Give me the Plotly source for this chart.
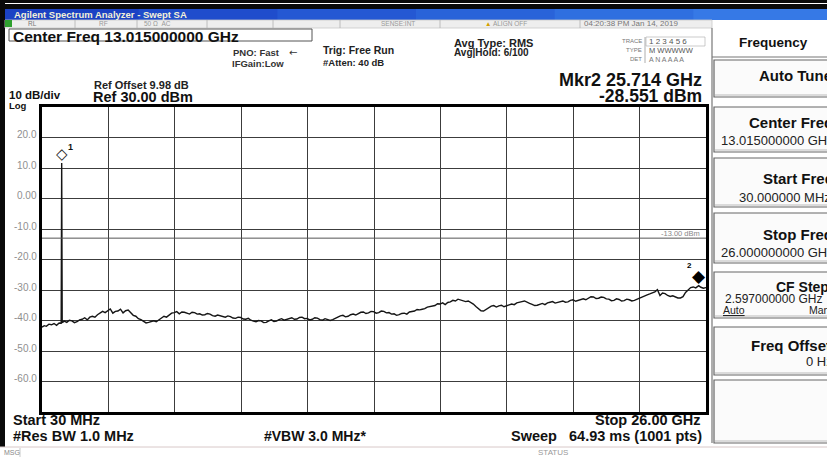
import plotly.graph_objects as go

# ---- sweep data (GHz, dBm) ----
freq_ghz = [
    0.03, 0.12, 0.2, 0.3, 0.4, 0.5, 0.6, 0.7, 0.78, 0.80, 0.82, 0.9,
    1.0, 1.1, 1.2, 1.3, 1.4, 1.5, 1.6, 1.7, 1.8, 1.9,
    2.0, 2.1, 2.2, 2.3, 2.4, 2.5, 2.6, 2.7, 2.8, 2.9,
    3.0, 3.1, 3.2, 3.3, 3.4, 3.5, 3.6, 3.7, 3.8, 3.9,
    4.0, 4.1, 4.2, 4.3, 4.4, 4.5, 4.6, 4.7, 4.8, 4.9,
    5.0, 5.1, 5.2, 5.3, 5.4, 5.5, 5.6, 5.7, 5.8, 5.9,
    6.0, 6.1, 6.2, 6.3, 6.4, 6.5, 6.6, 6.7, 6.8, 6.9,
    7.0, 7.1, 7.2, 7.3, 7.4, 7.5, 7.6, 7.7, 7.8, 7.9,
    8.0, 8.1, 8.2, 8.3, 8.4, 8.5, 8.6, 8.7, 8.8, 8.9,
    9.0, 9.1, 9.2, 9.3, 9.4, 9.5, 9.6, 9.7, 9.8, 9.9,
    10.0, 10.1, 10.2, 10.3, 10.4, 10.5, 10.6, 10.7, 10.8, 10.9,
    11.0, 11.1, 11.2, 11.3, 11.4, 11.5, 11.6, 11.7, 11.8, 11.9,
    12.0, 12.1, 12.2, 12.3, 12.4, 12.5, 12.6, 12.7, 12.8, 12.9,
    13.0, 13.1, 13.2, 13.3, 13.4, 13.5, 13.6, 13.7, 13.8, 13.9,
    14.0, 14.1, 14.2, 14.3, 14.4, 14.5, 14.6, 14.7, 14.8, 14.9,
    15.0, 15.1, 15.2, 15.3, 15.4, 15.5, 15.6, 15.7, 15.8, 15.9,
    16.0, 16.1, 16.2, 16.3, 16.4, 16.5, 16.6, 16.7, 16.8, 16.9,
    17.0, 17.1, 17.2, 17.3, 17.4, 17.5, 17.6, 17.7, 17.8, 17.9,
    18.0, 18.1, 18.2, 18.3, 18.4, 18.5, 18.6, 18.7, 18.8, 18.9,
    19.0, 19.1, 19.2, 19.3, 19.4, 19.5, 19.6, 19.7, 19.8, 19.9,
    20.0, 20.1, 20.2, 20.3, 20.4, 20.5, 20.6, 20.7, 20.8, 20.9,
    21.0, 21.1, 21.2, 21.3, 21.4, 21.5, 21.6, 21.7, 21.8, 21.9,
    22.0, 22.1, 22.2, 22.3, 22.4, 22.5, 22.6, 22.7, 22.8, 22.9,
    23.0, 23.1, 23.2, 23.3, 23.4, 23.5, 23.6, 23.7, 23.8, 23.9,
    24.0, 24.1, 24.2, 24.3, 24.4, 24.5, 24.6, 24.7, 24.8, 24.9,
    25.0, 25.1, 25.2, 25.3, 25.4, 25.5, 25.6, 25.714, 25.8, 25.9, 26.0,
]
level_dbm = [
    -42.2, -41.7, -41.9, -41.2, -41.4, -41.0, -41.6, -40.8, -40.9, 11.6, -40.7, -40.2,
    -40.6, -39.9, -40.1, -40.7, -40.4, -39.8, -39.6, -39.1, -39.8, -38.9,
    -38.6, -38.9, -38.1, -37.5, -37.0, -37.4, -36.7, -36.2, -37.6, -37.0,
    -36.9, -36.3, -37.5, -36.8, -36.6, -37.4, -38.3, -38.6, -39.4, -39.7,
    -40.2, -40.8, -40.6, -40.3, -40.1, -40.4, -39.8, -39.1, -38.6, -38.9,
    -38.2, -37.6, -37.4, -37.1, -37.8, -37.2, -37.3, -37.6, -37.9, -37.3,
    -37.4, -37.9, -37.8, -38.2, -38.1, -37.7, -37.9, -38.4, -38.6, -38.2,
    -38.4, -38.8, -38.9, -38.5, -38.7, -39.2, -39.3, -38.9, -39.0, -39.5,
    -39.6, -39.3, -39.9, -40.2, -40.4, -40.0, -40.1, -40.7, -40.6, -40.1,
    -39.8, -40.3, -40.2, -39.7, -39.4, -39.9, -39.7, -39.3, -39.1, -39.6,
    -39.5, -39.0, -38.9, -39.4, -39.3, -39.8, -39.6, -39.1, -39.2, -39.7,
    -39.9, -39.4, -39.6, -40.0, -39.7, -39.2, -38.9, -38.5, -38.3, -38.8,
    -38.6, -38.1, -37.9, -38.2, -37.6, -37.3, -37.2, -37.7, -37.5, -37.0,
    -37.1, -37.6, -37.4, -36.9, -37.0, -37.5, -37.4, -37.9, -37.8, -38.3,
    -38.1, -37.7, -37.6, -37.9, -37.2, -37.0, -36.9, -36.4, -36.5, -36.3,
    -36.1, -35.6, -35.5, -35.4, -35.1, -34.5, -34.6, -34.2, -34.8, -34.1,
    -33.9, -33.4, -33.6, -33.0, -33.2, -33.5, -33.8, -33.6, -34.1, -34.6,
    -35.4, -36.2, -36.8, -36.9, -36.3, -35.8, -35.3, -35.1, -35.6, -35.2,
    -35.0, -35.5, -35.3, -34.9, -34.6, -34.8, -34.2, -33.9, -33.8, -33.6,
    -34.1, -34.4, -34.7, -35.1, -35.0, -34.6, -34.4, -34.8, -34.2, -34.0,
    -33.8, -34.3, -34.1, -33.7, -33.6, -34.0, -33.9, -33.4, -33.2, -33.7,
    -33.5, -33.1, -32.9, -33.2, -32.6, -32.2, -32.3, -32.8, -32.7, -32.3,
    -32.4, -32.9, -33.0, -33.5, -33.4, -32.9, -33.1, -33.6, -33.5, -33.0,
    -33.2, -33.6, -33.4, -33.0, -32.8, -32.2, -31.9, -31.6, -31.3, -30.9,
    -30.6, -29.9, -31.8, -31.0, -31.2, -31.8, -32.1, -31.9, -32.3, -32.6,
    -32.6, -32.2, -30.8, -29.9, -29.2, -29.0, -29.3, -28.551, -29.1, -29.4, -29.2,
]

y_tick_vals = [20, 10, 0, -10, -20, -30, -40, -50, -60]
y_tick_text = ["20.0", "10.0", "0.00", "-10.0", "-20.0", "-30.0", "-40.0", "-50.0", "-60.0"]

start_ghz, stop_ghz = 0.03, 26.0
ref_level = 30.0
db_per_div = 10.0
display_line_dbm = -13.0
mkr1_ghz, mkr1_dbm = 0.80, 11.6
mkr2_ghz, mkr2_dbm = 25.714, -28.551

# ---- page geometry (pixels) ----
W, H = 827, 457
L, R, T, B = 42, 706, 107, 412
FONT = "Liberation Sans, Arial, sans-serif"


def px(x):
    return (x - L) / (R - L)


def py(y):
    return (B - y) / (B - T)


fig = go.Figure()

fig.add_trace(go.Scatter(
    x=freq_ghz, y=level_dbm, mode="lines",
    line=dict(color="#151515", width=1.4), hoverinfo="skip", showlegend=False,
))

shapes = []
annotations = []


def rect(x0, y0, x1, y1, fill=None, line=None, lw=1, layer="above"):
    shapes.append(dict(
        type="rect", xref="paper", yref="paper",
        x0=px(x0), x1=px(x1), y0=py(y1), y1=py(y0),
        fillcolor=fill if fill else "rgba(0,0,0,0)",
        line=dict(color=line if line else "rgba(0,0,0,0)", width=lw if line else 0),
        layer=layer,
    ))


def hline(x0, x1, y, color="#888", lw=1):
    shapes.append(dict(type="line", xref="paper", yref="paper",
                       x0=px(x0), x1=px(x1), y0=py(y), y1=py(y),
                       line=dict(color=color, width=lw)))


def vline(x, y0, y1, color="#888", lw=1):
    shapes.append(dict(type="line", xref="paper", yref="paper",
                       x0=px(x), x1=px(x), y0=py(y0), y1=py(y1),
                       line=dict(color=color, width=lw)))


def txt(x, y, s, size=10, anchor="left", color="#111", bold=False, family=FONT):
    annotations.append(dict(
        xref="paper", yref="paper", x=px(x), y=py(y),
        text=f"<b>{s}</b>" if bold else s, showarrow=False,
        xanchor=anchor, yanchor="middle",
        font=dict(family=family, size=size, color=color),
        borderpad=0,
    ))


# window frame and title bar
rect(0, 0, W + 5, 3, fill="#0a0a0a")
rect(0, 4, W + 5, 9, fill="#0a0a0a")
blues = ["#1b42c4", "#1f4dcc", "#2458d3", "#2963d9", "#2f6fe0", "#3679e6"]
seg = (W + 5) / len(blues)
for i, c in enumerate(blues):
    rect(i * seg, 9, (i + 1) * seg + 1, 20, fill=c)
txt(13, 14.5, "Agilent Spectrum Analyzer - Swept SA", size=9.5, color="#f4f1d8", bold=True)
rect(0, 0, 5, 447, fill="#0a0a0a")

# status row
rect(5, 20, 712, 28, fill="#eeeeee", line="#c8c8c8", lw=0.8)
rect(5, 20, 12, 27, fill="#2fa02f")
for xs in [75, 137, 207, 273, 340, 440, 580]:
    vline(xs, 20, 28, color="#b0b0b0", lw=0.8)
txt(27, 23.5, "RL", size=6.5, color="#777")
txt(98, 23.5, "RF", size=6.5, color="#999")
txt(143, 23.5, "50 Ω  AC", size=6.5, color="#999")
txt(380, 23.5, "SENSE:INT", size=6.5, color="#999")
txt(484, 23.5, "<span style='color:#d4a000'>▲</span> ALIGN OFF", size=6.5, color="#999")
txt(583, 23.5, "04:20:38 PM Jan 14, 2019", size=8, color="#777")

# centre frequency box
rect(9, 29, 312, 41, line="#555", lw=1)
txt(12, 36, "Center Freq 13.015000000 GHz", size=15.5, bold=True, color="#111")

txt(232, 53, "PNO: Fast", size=9.5, bold=True, color="#333")
txt(288, 53, "←", size=10, color="#333", family="DejaVu Sans")
txt(231, 63, "IFGain:Low", size=9.5, bold=True, color="#333")
txt(322, 50, "Trig: Free Run", size=10.5, bold=True, color="#222")
txt(322, 62, "#Atten: 40 dB", size=9.5, bold=True, color="#222")
txt(453, 43, "Avg Type: RMS", size=11, bold=True, color="#222")
txt(453, 53, "Avg|Hold: 6/100", size=10, bold=True, color="#222")

# trace status table
txt(643, 41, "TRACE", size=6, anchor="right", color="#777")
txt(643, 50, "TYPE", size=6, anchor="right", color="#777")
txt(643, 59, "DET", size=6, anchor="right", color="#777")
vline(645, 37, 63, color="#999", lw=0.8)
rect(646, 37, 705, 46, line="#aaa", lw=0.6)
txt(648, 41.5, "1 2 3 4 5 6", size=8, color="#555")
txt(648, 50.5, "M WWWWW", size=7.5, color="#555")
txt(648, 59.5, "A N A A A A", size=7, color="#777")

# reference / marker readouts
txt(93, 84.5, "Ref Offset 9.98 dB", size=11, bold=True, color="#222")
txt(92, 97.5, f"Ref {ref_level:.2f} dBm", size=14.5, bold=True, color="#111")
txt(8, 95, f"{db_per_div:.0f} dB/div", size=11.5, bold=True, color="#111")
txt(8, 105, "Log", size=9.5, bold=True, color="#111")
txt(703, 80, f"Mkr2 {mkr2_ghz:.3f} GHz", size=18, anchor="right", bold=True, color="#111")
txt(703, 95.5, f"{mkr2_dbm:.3f} dBm", size=17.5, anchor="right", bold=True, color="#111")

# frequency footer
txt(12, 420, f"Start {start_ghz * 1000:.0f} MHz", size=14.5, bold=True, color="#111")
txt(12, 436, "#Res BW 1.0 MHz", size=14.5, bold=True, color="#111")
txt(263, 436, "#VBW 3.0 MHz*", size=14, bold=True, color="#111")
txt(702, 420, f"Stop {stop_ghz:.2f} GHz", size=14.5, anchor="right", bold=True, color="#111")
txt(703, 436, "Sweep   64.93 ms (1001 pts)", size=14.5, anchor="right", bold=True, color="#111")
hline(0, W + 5, 447, color="#d8c8c8", lw=1)
txt(3, 452, "MSG", size=7, color="#888")
vline(20, 448, 457, color="#bbb", lw=0.8)
txt(537, 452, "STATUS", size=8, color="#999")

# softkey panel
vline(712, 28, 443, color="#777", lw=1.2)
txt(738, 42, "Frequency", size=13.5, bold=True, color="#111")
hline(712, W + 5, 57, color="#777", lw=1.2)
keys = [
    (60, 97, "Auto Tune", 758, 76, []),
    (107, 152, "Center Freq", 748, 122, [(720, 140, "13.015000000 GHz")]),
    (158, 207, "Start Freq", 762, 178, [(738, 197, "30.000000 MHz")]),
    (213, 263, "Stop Freq", 762, 234, [(720, 252, "26.000000000 GHz")]),
    (272, 318, "CF Step", 775, 287, [(724, 298.5, "2.597000000 GHz")]),
    (327, 375, "Freq Offset", 750, 345, [(805, 361, "0 Hz")]),
    (380, 443, "", 0, 0, []),
]
for top, bot, title, tx, ty, vals in keys:
    rect(714, top, W + 20, bot, fill="#fbfbfb", line="#666", lw=1.2)
    hline(715, W + 5, bot - 2, color="#bbb", lw=1)
    if title:
        size = 14 if title == "CF Step" else 15
        txt(tx, ty, title, size=size, bold=True, color="#111")
    for vx, vy, vs in vals:
        txt(vx, vy, vs, size=12 if title == "CF Step" else 13, color="#222")
txt(722, 310, "<u>Auto</u>", size=10.5, color="#222")
txt(808, 310, "Man", size=10.5, color="#222")

# y-axis labels sit just above each graticule line
for v, s in zip(y_tick_vals, y_tick_text):
    annotations.append(dict(
        xref="paper", yref="y", x=px(39), y=v, yshift=3, text=s, showarrow=False,
        xanchor="right", yanchor="middle", font=dict(family=FONT, size=10, color="#8f8f8f"),
    ))

# display line
shapes.append(dict(type="line", xref="paper", yref="y", x0=0, x1=1,
                   y0=display_line_dbm, y1=display_line_dbm,
                   line=dict(color="#555", width=1)))
annotations.append(dict(
    xref="paper", yref="y", x=px(702), y=display_line_dbm, yshift=5,
    text=f"{display_line_dbm:.2f} dBm", showarrow=False, xanchor="right",
    yanchor="middle", font=dict(family=FONT, size=7.5, color="#888"),
))

# markers
annotations.append(dict(xref="x", yref="y", x=mkr1_ghz, y=mkr1_dbm, yshift=9,
                        text="◇", showarrow=False, xanchor="center", yanchor="middle",
                        font=dict(family="DejaVu Sans", size=15, color="#222")))
annotations.append(dict(xref="x", yref="y", x=mkr1_ghz, y=mkr1_dbm, xshift=9, yshift=16,
                        text="<b>1</b>", showarrow=False, xanchor="center", yanchor="middle",
                        font=dict(family=FONT, size=9, color="#111")))
annotations.append(dict(xref="x", yref="y", x=mkr2_ghz, y=mkr2_dbm, yshift=10,
                        text="◆", showarrow=False, xanchor="center", yanchor="middle",
                        font=dict(family="DejaVu Sans", size=17, color="#000")))
annotations.append(dict(xref="x", yref="y", x=mkr2_ghz, y=mkr2_dbm, xshift=-9, yshift=20,
                        text="<b>2</b>", showarrow=False, xanchor="center", yanchor="middle",
                        font=dict(family=FONT, size=8, color="#000")))

fig.update_layout(
    width=W, height=H,
    margin=dict(l=L, r=W - R, t=T, b=H - B, pad=0),
    paper_bgcolor="white", plot_bgcolor="white",
    showlegend=False,
    xaxis=dict(
        range=[start_ghz, stop_ghz], tick0=start_ghz, dtick=(stop_ghz - start_ghz) / 10,
        showgrid=True, gridcolor="#3c3c3c", gridwidth=1.2, showticklabels=False,
        zeroline=False, showline=True, linecolor="#000", linewidth=2.5, mirror=True,
        ticks="", fixedrange=True,
    ),
    yaxis=dict(
        range=[ref_level - 10 * db_per_div, ref_level], tickvals=y_tick_vals,
        showgrid=True, gridcolor="#3c3c3c", gridwidth=1.2, showticklabels=False,
        zeroline=False, showline=True, linecolor="#000", linewidth=2.5, mirror=True,
        ticks="", fixedrange=True,
    ),
    shapes=shapes,
    annotations=annotations,
)

fig.write_html("out.html", config={"displayModeBar": False})
